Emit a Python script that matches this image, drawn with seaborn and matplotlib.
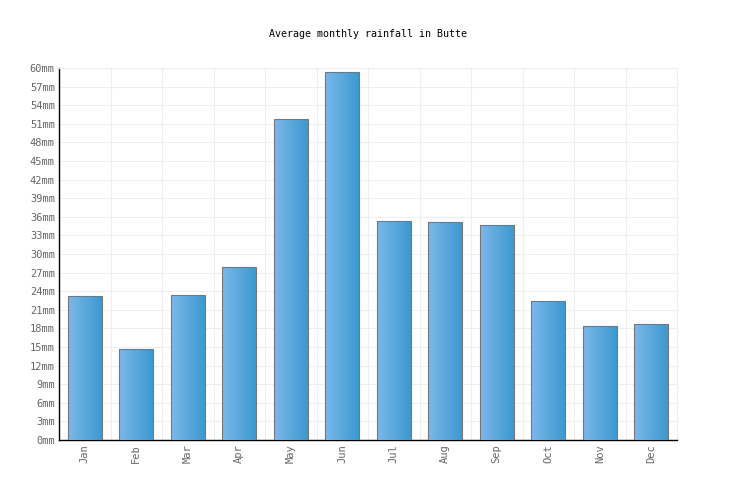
import numpy as np
import pandas as pd
import matplotlib
matplotlib.use("Agg")
import matplotlib.pyplot as plt
import seaborn as sns
from matplotlib.colors import LinearSegmentedColormap

months = ["Jan", "Feb", "Mar", "Apr", "May", "Jun", "Jul", "Aug", "Sep", "Oct", "Nov", "Dec"]
rainfall = [23.2, 14.7, 23.4, 27.9, 51.8, 59.4, 35.3, 35.2, 34.7, 22.4, 18.4, 18.7]
yticks = list(range(0, 61, 3))
ytick_labels = [f"{v}mm" for v in yticks]
title = "Average monthly rainfall in Butte"

sns.set_style("white")
plt.rcParams['font.family'] = ['DejaVu Sans Mono', 'DejaVu Sans']

df = pd.DataFrame({"month": months, "rain": rainfall})
fig = plt.figure(figsize=(7.36, 5.0), dpi=100)
ax = fig.add_axes([59/736, 60/500, 618/736, 372/500])
sns.barplot(data=df, x="month", y="rain", ax=ax, width=0.66, color="#5aaae0",
            edgecolor="#777777", linewidth=0.8, zorder=3)

cmap = LinearSegmentedColormap.from_list("g", ["#7db8ea", "#3b99cf"])
grad = np.linspace(0, 1, 256).reshape(1, -1)
for p in ax.patches:
    x0, y0 = p.get_x(), p.get_y()
    w, h = p.get_width(), p.get_height()
    im = ax.imshow(grad, cmap=cmap, aspect="auto", extent=[x0, x0 + w, y0, y0 + h],
                   zorder=3.5, interpolation="bicubic")
    im.set_clip_path(p)
    p.set_facecolor("none")
    p.set_zorder(4)

ax.set_xlim(-0.5, 11.5)
ax.set_ylim(0, 60)
ax.set_yticks(yticks)
ax.set_yticklabels(ytick_labels)
ax.set_xticks(range(12))
ax.set_xticklabels(months, rotation=90)
ax.set_xticks(np.arange(-0.5, 12, 1), minor=True)
ax.grid(False)
ax.yaxis.grid(True, color="#eeeeee", linewidth=0.8, zorder=0)
ax.xaxis.grid(True, which="minor", color="#eeeeee", linewidth=0.8, zorder=0)
ax.set_axisbelow(True)
ax.tick_params(axis="both", which="both", length=0, labelsize=7.5, labelcolor="#666666", pad=3)
ax.set_xlabel("")
ax.set_ylabel("")
for s in ["top", "right"]:
    ax.spines[s].set_color("#eeeeee")
    ax.spines[s].set_linewidth(0.8)
for s in ["left", "bottom"]:
    ax.spines[s].set_color("black")
    ax.spines[s].set_linewidth(1.0)

fig.text(0.5, 1 - 34/500, title, ha="center", va="center", fontsize=7.2, color="black")
fig.savefig("out.png", dpi=100, facecolor="white")
